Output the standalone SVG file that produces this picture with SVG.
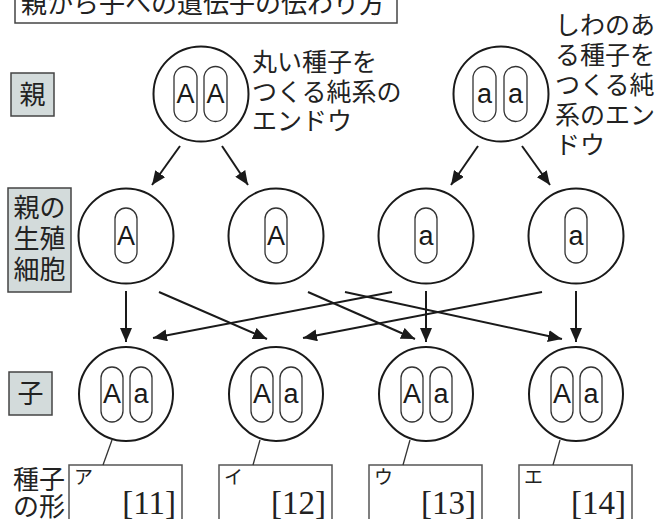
<svg xmlns="http://www.w3.org/2000/svg" width="655" height="519" viewBox="0 0 655 519">
<defs>
<marker id="ah" markerUnits="userSpaceOnUse" markerWidth="16" markerHeight="12" refX="14" refY="6" orient="auto">
<path d="M0,0 L14,6 L0,12 Z" fill="#1a1a1a"/>
</marker>
</defs>
<style>
.jp{font-family:"Noto Sans CJK JP","Noto Sans",sans-serif;fill:#222}
.cell{fill:#fff;stroke:#1a1a1a;stroke-width:2}
.cap{fill:#fff;stroke:#333;stroke-width:1.3}
.gene{font-family:"Liberation Sans",Arial,sans-serif;font-size:27px;fill:#1a1a1a;text-anchor:middle}
.lab{fill:#d3dbdb;stroke:#444;stroke-width:1.5}
.arr{stroke:#1a1a1a;stroke-width:2;fill:none;marker-end:url(#ah)}
.tie{stroke:#333;stroke-width:1.3}
.box{fill:#fff;stroke:#555;stroke-width:1.5}
.num{font-family:"Liberation Serif","Times New Roman",serif;font-size:33px;fill:#222;text-anchor:end}
.kana{font-family:"Noto Sans CJK JP",sans-serif;font-size:19px;fill:#222}
</style>
<rect width="655" height="519" fill="#fff"/>

<g id="title">
<rect x="15" y="-10" width="382" height="33" fill="#fff" stroke="#444" stroke-width="1.5"/>
<text class="jp" x="21" y="13" font-size="26">親から子への遺伝子の伝わり方</text>
</g>

<g id="label-parent">
<rect class="lab" x="11" y="73" width="43" height="43"/>
<text class="jp" x="32.5" y="104" font-size="26" text-anchor="middle">親</text>
</g>
<g id="label-gamete">
<rect class="lab" x="8" y="188" width="63" height="104"/>
<text class="jp" x="39.5" y="217" font-size="26" text-anchor="middle">親の</text>
<text class="jp" x="39.5" y="248" font-size="26" text-anchor="middle">生殖</text>
<text class="jp" x="39.5" y="279" font-size="26" text-anchor="middle">細胞</text>
</g>
<g id="label-child">
<rect class="lab" x="9" y="372" width="43" height="43"/>
<text class="jp" x="30.5" y="403" font-size="26" text-anchor="middle">子</text>
</g>
<g id="label-shape">
<text class="jp" x="39" y="489" font-size="26" text-anchor="middle">種子</text>
<text class="jp" x="39" y="516" font-size="26" text-anchor="middle">の形</text>
</g>

<g id="parent-AA">
<circle class="cell" cx="201" cy="94" r="47.5"/>
<rect class="cap" x="174" y="66.5" width="23" height="55" rx="11.5"/>
<rect class="cap" x="204" y="66.5" width="23" height="55" rx="11.5"/>
<text class="gene" x="185.5" y="103">A</text>
<text class="gene" x="215.5" y="103">A</text>
<text class="jp" font-size="25" x="252" y="71">丸い種子を</text>
<text class="jp" font-size="25" x="252" y="101">つくる純系の</text>
<text class="jp" font-size="25" x="252" y="130">エンドウ</text>
</g>

<g id="parent-aa">
<circle class="cell" cx="501" cy="94" r="47.5"/>
<rect class="cap" x="473" y="66.5" width="23" height="55" rx="11.5"/>
<rect class="cap" x="504" y="66.5" width="23" height="55" rx="11.5"/>
<text class="gene" x="484.5" y="103">a</text>
<text class="gene" x="515.5" y="103">a</text>
<text class="jp" font-size="25" x="555" y="34">しわのあ</text>
<text class="jp" font-size="25" x="555" y="64">る種子を</text>
<text class="jp" font-size="25" x="555" y="94">つくる純</text>
<text class="jp" font-size="25" x="555" y="124">系のエン</text>
<text class="jp" font-size="25" x="555" y="154">ドウ</text>
</g>

<g id="gamete-1">
<circle class="cell" cx="126" cy="236" r="47.5"/>
<rect class="cap" x="115" y="208" width="22" height="55" rx="11"/>
<text class="gene" x="126" y="245">A</text>
</g>
<g id="gamete-2">
<circle class="cell" cx="276" cy="236" r="47.5"/>
<rect class="cap" x="265" y="208" width="22" height="55" rx="11"/>
<text class="gene" x="276" y="245">A</text>
</g>
<g id="gamete-3">
<circle class="cell" cx="426" cy="236" r="47.5"/>
<rect class="cap" x="415" y="208" width="22" height="55" rx="11"/>
<text class="gene" x="426" y="245">a</text>
</g>
<g id="gamete-4">
<circle class="cell" cx="576" cy="236" r="47.5"/>
<rect class="cap" x="565" y="208" width="22" height="55" rx="11"/>
<text class="gene" x="576" y="245">a</text>
</g>

<g id="child-1">
<circle class="cell" cx="126" cy="394" r="47"/>
<rect class="cap" x="101" y="367" width="22" height="55" rx="11"/>
<rect class="cap" x="130" y="367" width="22" height="55" rx="11"/>
<text class="gene" x="112" y="403">A</text>
<text class="gene" x="141" y="403">a</text>
</g>
<g id="child-2">
<circle class="cell" cx="276" cy="394" r="47"/>
<rect class="cap" x="251" y="367" width="22" height="55" rx="11"/>
<rect class="cap" x="280" y="367" width="22" height="55" rx="11"/>
<text class="gene" x="262" y="403">A</text>
<text class="gene" x="291" y="403">a</text>
</g>
<g id="child-3">
<circle class="cell" cx="426" cy="394" r="47"/>
<rect class="cap" x="401" y="367" width="22" height="55" rx="11"/>
<rect class="cap" x="430" y="367" width="22" height="55" rx="11"/>
<text class="gene" x="412" y="403">A</text>
<text class="gene" x="441" y="403">a</text>
</g>
<g id="child-4">
<circle class="cell" cx="576" cy="394" r="47"/>
<rect class="cap" x="551" y="367" width="22" height="55" rx="11"/>
<rect class="cap" x="580" y="367" width="22" height="55" rx="11"/>
<text class="gene" x="562" y="403">A</text>
<text class="gene" x="591" y="403">a</text>
</g>

<g id="answer-1">
<rect class="box" x="69" y="465" width="113" height="70"/>
<text class="kana" x="74" y="484">ア</text>
<text class="num" x="176" y="514">[11]</text>
</g>
<g id="answer-2">
<rect class="box" x="219" y="465" width="113" height="70"/>
<text class="kana" x="224" y="484">イ</text>
<text class="num" x="326" y="514">[12]</text>
</g>
<g id="answer-3">
<rect class="box" x="369" y="465" width="113" height="70"/>
<text class="kana" x="374" y="484">ウ</text>
<text class="num" x="476" y="514">[13]</text>
</g>
<g id="answer-4">
<rect class="box" x="519" y="465" width="113" height="70"/>
<text class="kana" x="524" y="484">エ</text>
<text class="num" x="626" y="514">[14]</text>
</g>

<g id="connectors">
<line class="arr" x1="180" y1="146" x2="152" y2="185"/>
<line class="arr" x1="222" y1="146" x2="248" y2="185"/>
<line class="arr" x1="478" y1="146" x2="451" y2="185"/>
<line class="arr" x1="522" y1="146" x2="550" y2="185"/>
<line class="arr" x1="126" y1="291" x2="126" y2="342"/>
<line class="arr" x1="159" y1="292" x2="267" y2="339"/>
<line class="arr" x1="308" y1="292" x2="415" y2="339"/>
<line class="arr" x1="345" y1="292" x2="562" y2="339"/>
<line class="arr" x1="392" y1="292" x2="153" y2="338"/>
<line class="arr" x1="426" y1="291" x2="426" y2="342"/>
<line class="arr" x1="542" y1="292" x2="303" y2="338"/>
<line class="arr" x1="576" y1="291" x2="576" y2="342"/>
<line class="tie" x1="112" y1="440" x2="103" y2="465"/>
<line class="tie" x1="260" y1="440" x2="253" y2="465"/>
<line class="tie" x1="410" y1="440" x2="403" y2="465"/>
<line class="tie" x1="560" y1="440" x2="553" y2="465"/>
</g>
</svg>
